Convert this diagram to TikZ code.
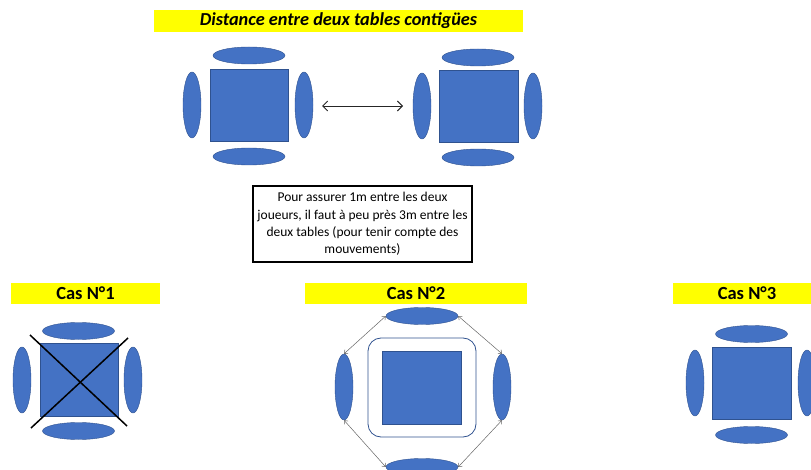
\documentclass[tikz,border=0pt]{standalone}
\usepackage{fontspec}
\setmainfont{Carlito}
\usetikzlibrary{arrows.meta,shapes.geometric}
\definecolor{tblue}{HTML}{4472C4}
\definecolor{tedge}{HTML}{2F528F}
\definecolor{tyellow}{HTML}{FFFF00}
\begin{document}
\begin{tikzpicture}[x=1pt,y=-1pt,
  seat/.style={ellipse, fill=tblue, draw=tedge, line width=0.4pt, inner sep=0pt},
  hseat/.style={seat, minimum width=72pt, minimum height=17pt},
  vseat/.style={seat, minimum width=18pt, minimum height=66pt},
  tbl/.style={rectangle, fill=tblue, draw=tedge, line width=0.5pt, inner sep=0pt},
  banner/.style={rectangle, fill=tyellow, inner sep=0pt, font=\bfseries\fontsize{18.5}{20}\selectfont},
  garrow/.style={{Straight Barb[length=3pt,width=5pt]}-{Straight Barb[length=3pt,width=5pt]}, draw=gray!80!black, line width=0.5pt}
]
\useasboundingbox (0,0) rectangle (811,470);
\clip (0,0) rectangle (811,470);

% title
\node[banner, minimum width=369pt, minimum height=22pt, font=\bfseries\itshape\fontsize{18.3}{20}\selectfont] (title) at (338.5,21) {Distance entre deux tables contigües};

% top-left table
\node[tbl, minimum width=78pt, minimum height=72pt] (t1) at (249,105) {};
\node[hseat] (t1n) at (249,55.5) {};
\node[hseat] (t1s) at (249,156.5) {};
\node[vseat] (t1w) at (192,105) {};
\node[vseat] (t1e) at (304,105) {};

% top-right table
\node[tbl, minimum width=79pt, minimum height=72pt] (t2) at (478.5,106) {};
\node[hseat] (t2n) at (478,57.5) {};
\node[hseat] (t2s) at (478,157.5) {};
\node[vseat] (t2w) at (422,106) {};
\node[vseat] (t2e) at (533,106) {};

\coordinate (a1) at (322,106);
\coordinate (a2) at (403,106);
\draw[{Straight Barb[length=5pt,width=10pt]}-{Straight Barb[length=5pt,width=10pt]}, line width=0.9pt, draw=black!85] (a1) -- (a2);

% text box
\node[draw=black, line width=1.6pt, minimum width=219pt, minimum height=76pt, inner sep=2pt, align=center, font=\fontsize{13.5}{17.5}\selectfont] (info) at (362.5,224)
{Pour assurer 1m entre les deux\\joueurs, il faut à peu près 3m entre les\\deux tables (pour tenir compte des\\mouvements)};

% Cas 1
\node[banner, minimum width=149pt, minimum height=21pt] (c1) at (85.5,293.5) {Cas N°1};
\node[tbl, minimum width=78pt, minimum height=73pt] (k1) at (79,379.5) {};
\node[hseat] (k1n) at (78.5,331) {};
\node[hseat] (k1s) at (78.5,431) {};
\node[vseat] (k1w) at (22,380) {};
\node[vseat] (k1e) at (133,380) {};
\coordinate (x1) at (30,335);
\coordinate (x2) at (127,426);
\coordinate (x3) at (128,338);
\coordinate (x4) at (31,428);
\draw[line width=1.5pt] (x1) -- (x2);
\draw[line width=1.5pt] (x3) -- (x4);

% Cas 2
\node[banner, minimum width=222pt, minimum height=21pt] (c2) at (416,293.5) {Cas N°2};
\node[rectangle, rounded corners=13pt, draw=tedge, line width=0.8pt, minimum width=108pt, minimum height=99pt] (r2) at (422,387.5) {};
\node[tbl, minimum width=79pt, minimum height=73pt] (k2) at (421.5,387.5) {};
\node[hseat] (k2n) at (422,316) {};
\node[hseat] (k2s) at (422,467) {};
\node[vseat] (k2w) at (344,387) {};
\node[vseat] (k2e) at (502,387) {};
\draw[garrow] (k2n.west) -- (k2w.north);
\draw[garrow] (k2n.east) -- (k2e.north);
\draw[garrow] (k2w.south) -- (k2s.west);
\draw[garrow] (k2e.south) -- (k2s.east);

% Cas 3
\node[banner, minimum width=148pt, minimum height=21pt] (c3) at (747,293.5) {Cas N°3};
\node[tbl, minimum width=79pt, minimum height=72pt] (k3) at (751.5,383) {};
\node[hseat] (k3n) at (751.5,334) {};
\node[hseat] (k3s) at (751.5,435) {};
\node[vseat] (k3w) at (695,383) {};
\node[vseat] (k3e) at (807,383) {};
\end{tikzpicture}
\end{document}
